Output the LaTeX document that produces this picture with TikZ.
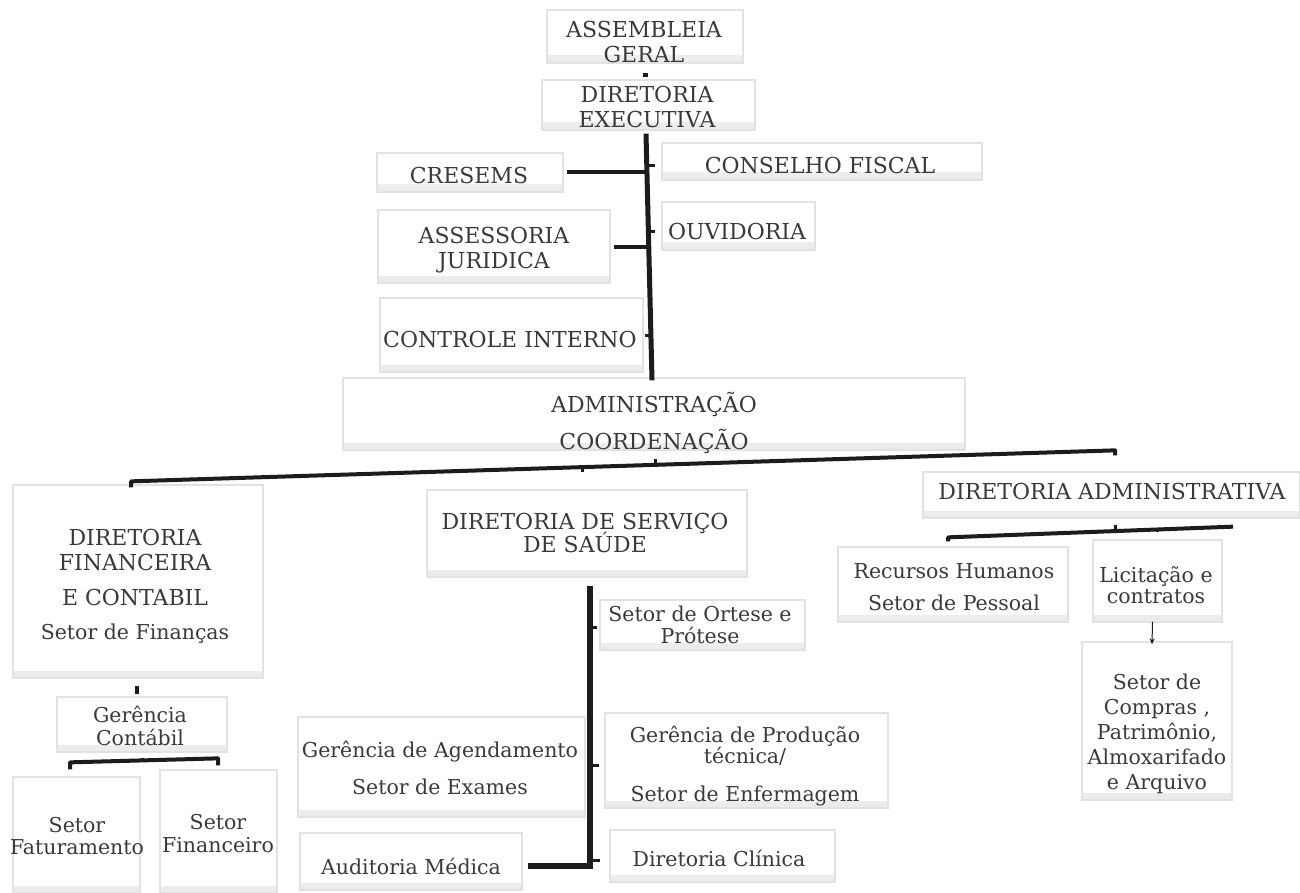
\documentclass[tikz,border=0pt]{standalone}
\usepackage{fontspec}
\setmainfont{DejaVu Serif}
\usetikzlibrary{calc,arrows.meta}
\newcommand\capsz{\fontsize{22}{24.5}\selectfont}
\newcommand\lowsz{\fontsize{20.5}{25}\selectfont}
\definecolor{inkc}{HTML}{3A3A3A}
\definecolor{linec}{HTML}{1C1C1C}
\definecolor{boxc}{HTML}{E2E2E2}
\begin{document}
\begin{tikzpicture}[x=1pt,y=-1pt,
  box/.style={draw=boxc, line width=1.3pt, inner sep=0pt,
    path picture={\shade[top color=white, bottom color=black!8]
      ($(path picture bounding box.south west)+(0,-7)$) rectangle (path picture bounding box.south east);}},
  txt/.style={text=inkc, align=center, inner sep=0pt, font=\capsz},
  low/.style={txt, font=\lowsz},
  conn/.style={draw=linec, line width=4pt},
  stub/.style={draw=linec, line width=3pt},
]
\useasboundingbox (0,0) rectangle (1300,893);
\fill[white] (0,0) rectangle (1300,893);

% ---- boxes ----
\node[box, minimum width=196pt, minimum height=53pt] (asm) at (645,36.5) {};
\node[box, minimum width=213pt, minimum height=50pt] (dex) at (648.5,105) {};
\node[box, minimum width=186pt, minimum height=39pt] (cre) at (470,172.5) {};
\node[box, minimum width=320pt, minimum height=37pt] (cf) at (822,161.5) {};
\node[box, minimum width=232pt, minimum height=73pt] (ass) at (494,246.5) {};
\node[box, minimum width=153pt, minimum height=48pt] (ouv) at (738.5,226) {};
\node[box, minimum width=263pt, minimum height=74pt] (ci) at (511.5,335) {};
\node[box, minimum width=622pt, minimum height=72pt] (adm) at (654,414) {};
\node[box, minimum width=250pt, minimum height=193pt] (fin) at (138,581.5) {};
\node[box, minimum width=170pt, minimum height=55pt] (gc) at (142,724.5) {};
\node[box, minimum width=127pt, minimum height=116pt] (fat) at (76.5,835) {};
\node[box, minimum width=117pt, minimum height=123pt] (fnc) at (218.5,831.5) {};
\node[box, minimum width=320pt, minimum height=87pt] (sau) at (587,533.5) {};
\node[box, minimum width=205pt, minimum height=50pt] (ort) at (702.5,625) {};
\node[box, minimum width=287pt, minimum height=100pt] (agd) at (441.5,767) {};
\node[box, minimum width=283pt, minimum height=95pt] (prd) at (746.5,760.5) {};
\node[box, minimum width=222pt, minimum height=57pt] (aud) at (411,861.5) {};
\node[box, minimum width=225pt, minimum height=52pt] (clin) at (722.5,856) {};
\node[box, minimum width=377pt, minimum height=46pt] (dadm) at (1111.5,495) {};
\node[box, minimum width=230pt, minimum height=75pt] (rh) at (953,584.5) {};
\node[box, minimum width=129pt, minimum height=82pt] (lic) at (1157.5,581) {};
\node[box, minimum width=150pt, minimum height=158pt] (comp) at (1157,721) {};

% ---- texts ----
\node[txt] (asm-t) at (644,42) {ASSEMBLEIA\\GERAL};
\node[txt] (dex-t) at (647,107) {DIRETORIA\\EXECUTIVA};
\node[txt] (cre-t) at (469,175) {CRESEMS};
\node[txt] (cf-t) at (820,165) {CONSELHO FISCAL};
\node[txt] (ass-t) at (494,250) {ASSESSORIA\\JURIDICA};
\node[txt] (ouv-t) at (737,231) {OUVIDORIA};
\node[txt] (ci-t) at (510,339) {CONTROLE INTERNO};
\node[txt] (adm-t) at (654,423) {ADMINISTRAÇÃO\\[11.5pt]COORDENAÇÃO};
\node[txt] (fin-t) at (135,586.5) {DIRETORIA\\FINANCEIRA\\[11pt]E CONTABIL\\[9pt]{\lowsz Setor de Finanças}};
\node[low] (gc-t) at (140,726) {Gerência\\[-2pt]Contábil};
\node[low] (fat-t) at (77,836) {Setor\\[-3pt]Faturamento};
\node[low] (fnc-t) at (218,833.5) {Setor\\[-2pt]Financeiro};
\node[txt] (sau-t) at (585,533) {DIRETORIA DE SERVIÇO\\[-2pt]DE SAÚDE};
\node[low] (ort-t) at (700,625) {Setor de Ortese e\\[-3pt]Prótese};
\node[low] (agd-t) at (440,767.5) {Gerência de Agendamento\\[12pt]Setor de Exames};
\node[low] (prd-t) at (745,766) {Gerência de Produção\\[-4pt]técnica/\\[13pt]Setor de Enfermagem};
\node[low] (aud-t) at (411,866) {Auditoria Médica};
\node[low] (clin-t) at (719,858) {Diretoria Clínica};
\node[txt] (dadm-t) at (1112,491) {DIRETORIA ADMINISTRATIVA};
\node[low] (rh-t) at (954,587) {Recursos Humanos\\[7pt]Setor de Pessoal};
\node[low] (lic-t) at (1156,585.5) {Licitação e\\[-4pt]contratos};
\node[low] (comp-t) at (1157,734) {Setor de\\Compras ,\\Patrimônio,\\Almoxarifado\\e Arquivo};

% ---- connectors ----
\draw[conn, line width=5pt] ($(asm.south)+(0,9)$) -- ($(dex.north)+(-3.5,-2)$);
\draw[conn, line width=5pt] ($(dex.south)+(-2.5,3)$) -- ($(adm.north)+(-2,3)$);
\draw[conn] ($(cre.east)+(3,0)$) -- ($(cre.east -| dex.south)+(-1,0)$);
\draw[conn] ($(ass.east)+(3,0.5)$) -- ($(ass.east -| dex.south)+(1,0.5)$);
\draw[stub] ($(cf.west)+(-12,4)$) -- ($(cf.west)+(-6,4)$);
\draw[stub] ($(ouv.west)+(-12,6)$) -- ($(ouv.west)+(-6,6)$);
\draw[stub] ($(ci.east)+(1,0)$) -- ($(ci.east)+(7,0)$);
\draw[stub] ($(adm.south)+(1,8)$) -- ($(adm.south)+(1,12)$);
% main bus
\draw[conn, line join=round] ($(fin.north)+(-7,3)$) -- ($(fin.north)+(-7,-3)$)
   -- ($(dadm.north)+(3.5,-21)$) -- ($(dadm.north)+(3.5,-16)$);
\draw[stub] ($(sau.north)+(-5,-22)$) -- ($(sau.north)+(-5,-17)$);
% health branch
\draw[conn, line width=5.5pt] ($(sau.south)+(3,8)$) |- ($(aud.east)+(5,4.5)$);
\draw[stub] ($(ort.west)+(-7,2)$) -- ($(ort.west)+(-2,2)$);
\draw[stub] ($(prd.west)+(-12,4.5)$) -- ($(prd.west)+(-5,4.5)$);
\draw[stub] ($(clin.west)+(-17,4)$) -- ($(clin.west)+(-9,4)$);
% finance branch
\draw[conn] ($(fin.south)+(-1,7)$) -- ($(gc.north)+(-5,-2)$);
\draw[conn, line join=round] ($(fat.north)+(-6.5,-7)$) -- ($(fat.north)+(-6.5,-14)$)
   -- ($(fnc.north)+(-0.5,-11)$) -- ($(fnc.north)+(-0.5,-4)$);
\draw[stub] ($(gc.south)+(0,5)$) -- ($(gc.south)+(0,9)$);
% administrative branch
\draw[conn, line join=round] ($(rh.north)+(-5,-5)$) -- ($(rh.north)+(-5,-9)$)
   -- ($(dadm.south)+(121.5,8)$);
\draw[stub] ($(dadm.south)+(3.5,6)$) -- ($(dadm.south)+(3.5,11)$);
\draw[stub] ($(lic.north)+(0,-11)$) -- ($(lic.north)+(0,-7)$);
\draw[linec, line width=1pt, -{Stealth[length=6pt,width=5pt]}] ($(lic.south)+(-5,-1)$) -- ($(comp.north)+(-5,3)$);
\end{tikzpicture}
\end{document}
